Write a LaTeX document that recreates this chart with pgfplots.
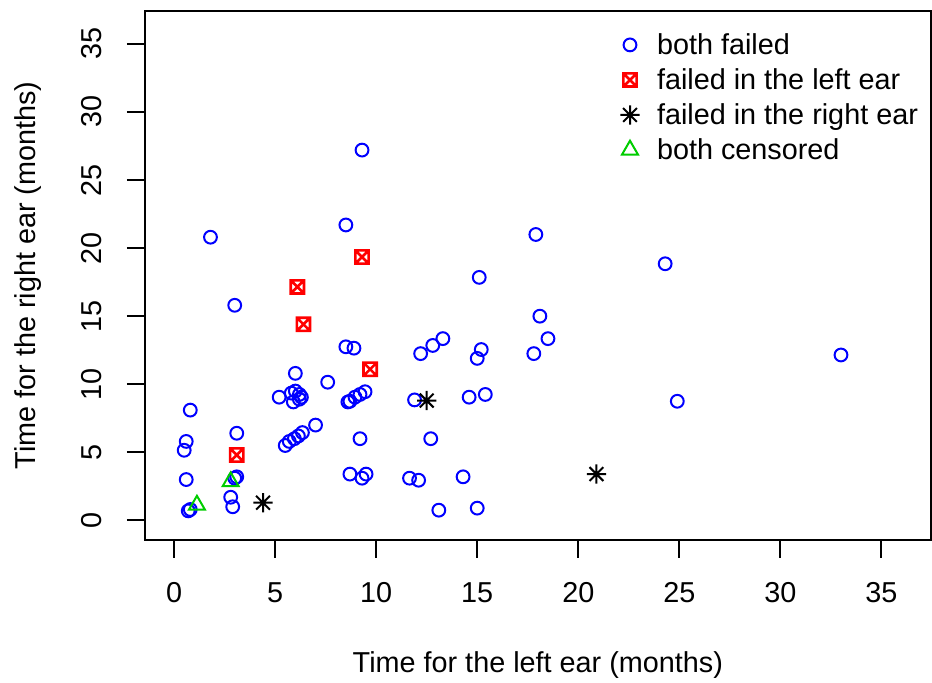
\documentclass[border=0pt]{standalone}
\usepackage{fontspec}
\setmainfont{Liberation Sans}
\usepackage{pgfplots}
\pgfplotsset{compat=1.18}
\definecolor{rblue}{RGB}{0,0,255}
\definecolor{rred}{RGB}{255,0,0}
\definecolor{rgreen}{RGB}{0,205,0}
\pgfdeclareplotmark{boxtimes}{%
 \pgfpathrectangle{\pgfqpoint{-\pgfplotmarksize}{-\pgfplotmarksize}}{\pgfqpoint{2\pgfplotmarksize}{2\pgfplotmarksize}}%
 \pgfpathmoveto{\pgfqpoint{-\pgfplotmarksize}{-\pgfplotmarksize}}\pgfpathlineto{\pgfqpoint{\pgfplotmarksize}{\pgfplotmarksize}}%
 \pgfpathmoveto{\pgfqpoint{-\pgfplotmarksize}{\pgfplotmarksize}}\pgfpathlineto{\pgfqpoint{\pgfplotmarksize}{-\pgfplotmarksize}}%
 \pgfusepathqstroke}
\pgfdeclareplotmark{rstar}{%
 \pgfpathmoveto{\pgfqpoint{0pt}{\pgfplotmarksize}}\pgfpathlineto{\pgfqpoint{0pt}{-\pgfplotmarksize}}%
 \pgfpathmoveto{\pgfqpoint{\pgfplotmarksize}{0pt}}\pgfpathlineto{\pgfqpoint{-\pgfplotmarksize}{0pt}}%
 \pgfpathmoveto{\pgfqpoint{.72\pgfplotmarksize}{.72\pgfplotmarksize}}\pgfpathlineto{\pgfqpoint{-.72\pgfplotmarksize}{-.72\pgfplotmarksize}}%
 \pgfpathmoveto{\pgfqpoint{-.72\pgfplotmarksize}{.72\pgfplotmarksize}}\pgfpathlineto{\pgfqpoint{.72\pgfplotmarksize}{-.72\pgfplotmarksize}}%
 \pgfusepathqstroke}
\begin{document}
\begin{tikzpicture}[font=\fontsize{14.4}{17.2}\selectfont]
\begin{axis}[
  at={(72.5pt,71.5pt)}, anchor=south west,
  scale only axis, width=392.85pt, height=264.65pt,
  xmin=-1.44, xmax=37.44, ymin=-1.44, ymax=37.44,
  xtick={0,5,...,35}, ytick={0,5,...,35},
  xtick pos=bottom, ytick pos=left,
  tick align=outside, major tick length=9pt,
  axis line style={line width=1pt},
  every tick/.style={line width=1pt, black},
  /pgf/number format/assume math mode=true,
  tick label style={font=\fontsize{14.4}{17.2}\selectfont},
  xticklabel style={anchor=center, yshift=-17.5pt},
  yticklabel style={anchor=center, xshift=-17.7pt, rotate=90},
  every axis x label/.style={at={(axis description cs:0.5,0)}, anchor=center, yshift=-62.5pt},
  every axis y label/.style={at={(axis description cs:0,0.5)}, anchor=center, xshift=-58.6pt, rotate=90},
  xlabel={Time for the left ear (months)},
  ylabel={Time for the right ear (months)},
  legend image code/.code={\path[draw=none,fill=none] (-2pt,-3pt) rectangle (10pt,3pt); \draw[#1] plot coordinates {(4pt,0pt)};},
  legend style={draw=none, fill=none, at={(axis description cs:0.602,0.958)}, anchor=north west,
    inner sep=0pt, outer sep=0pt, column sep=7.5pt, row sep=5.5pt,
    nodes={inner sep=0pt, text height=11pt, text depth=1pt, font=\fontsize{14.4}{17.2}\selectfont},
    cells={anchor=west}},
]
\addplot[only marks, mark=o, mark size=3.2pt, rblue, line width=1pt] coordinates {
(0.8,8.1) (0.6,5.8) (0.5,5.15) (0.6,3.0) (0.7,0.7) (0.8,0.8)
(1.8,20.8) (3.0,15.8) (3.1,6.4) (3.0,3.1) (3.1,3.2) (2.8,1.7) (2.9,1.0)
(6.0,10.8) (7.6,10.15) (5.2,9.05) (5.8,9.35) (6.0,9.5) (6.2,9.25) (6.3,9.05) (5.9,8.7) (6.2,8.9)
(7.0,7.0) (5.5,5.5) (5.7,5.8) (5.95,6.0) (6.15,6.2) (6.35,6.45)
(8.5,21.7) (9.3,27.2) (8.5,12.75) (8.9,12.65)
(8.6,8.7) (8.7,8.75) (8.95,9.05) (9.2,9.25) (9.45,9.45)
(9.2,6.0) (8.7,3.4) (9.3,3.1) (9.5,3.4)
(11.9,8.85) (12.7,6.0) (11.65,3.1) (12.1,2.95) (13.1,0.75) (15.0,0.9) (14.3,3.2)
(12.2,12.25) (12.8,12.85) (13.3,13.35) (15.2,12.55) (15.0,11.9) (14.6,9.05) (15.4,9.25)
(15.1,17.85) (17.9,21.0) (18.1,15.0) (17.8,12.25) (18.5,13.35) (24.3,18.85) (24.9,8.75) (33.0,12.15)
};
\addlegendentry{both failed}
\addplot[only marks, mark=boxtimes, mark size=3.3pt, rred, line width=1.3pt] coordinates {
(3.1,4.8) (6.1,17.15) (6.4,14.4) (9.3,19.35) (9.7,11.1)
};
\addlegendentry{failed in the left ear}
\addplot[only marks, mark=rstar, mark size=4.8pt, black, line width=1pt] coordinates {
(4.4,1.3) (12.5,8.8) (20.9,3.4)
};
\addlegendentry{failed in the right ear}
\addplot[only marks, mark=triangle, mark size=4.6pt, rgreen, line width=1pt] coordinates {
(1.13,1.13) (2.8,2.85)
};
\addlegendentry{both censored}
\end{axis}
\pgfresetboundingbox
\path (0,0) rectangle (466pt,341.5pt);
\end{tikzpicture}
\end{document}
